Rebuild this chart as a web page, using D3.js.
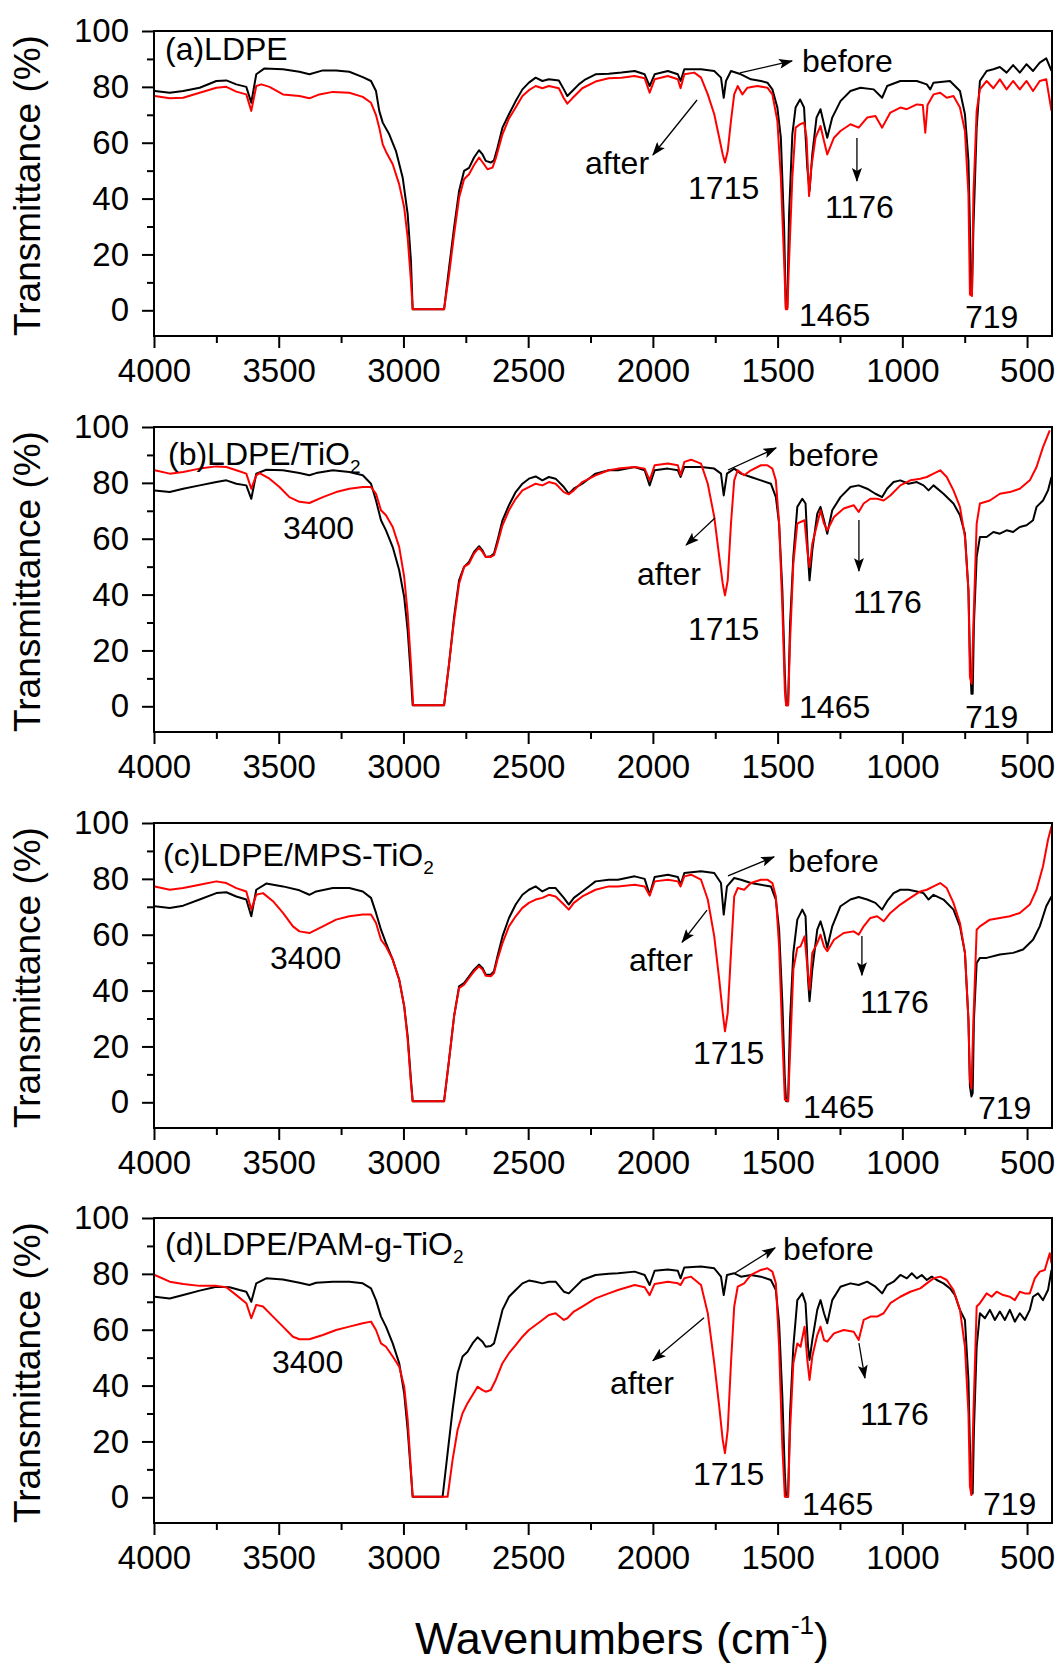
<!DOCTYPE html>
<html>
<head>
<meta charset="utf-8">
<script src="https://cdn.jsdelivr.net/npm/d3@7"></script>
<style>
  body { margin: 0; background: #fff; }
</style>
</head>
<body>
<svg id="chart" width="1060" height="1664"></svg>
<script>
///////// data: [wavenumber (cm-1), transmittance (%)] //////////

const ldpeBefore = [[3997,78.5],[3937,77.9],[3883,78.5],[3817,79.7],[3750,82.1],[3710,82.3],[3670,80.9],[3630,80],[3610,74.3],[3590,84.5],[3557,86.6],[3483,86.3],[3417,85.4],[3377,84.5],[3323,85.9],[3270,85.9],[3217,85.4],[3163,83.5],[3130,82.1],[3110,78.5],[3097,71.4],[3083,67.2],[3057,63],[3030,57],[3003,47.5],[2983,34.4],[2970,17.7],[2963,0.4],[2837,0.4],[2817,15.3],[2797,29.6],[2777,42.7],[2757,49.9],[2737,51],[2717,54.7],[2697,57.3],[2683,55.8],[2670,53.5],[2650,52.9],[2637,53.7],[2623,58.2],[2603,65.4],[2577,70.2],[2550,74.9],[2523,79.1],[2497,81.5],[2470,83.3],[2443,82.1],[2417,82.7],[2377,82.3],[2357,79.1],[2343,76.7],[2323,78.5],[2297,80.9],[2270,82.7],[2230,84.5],[2177,84.7],
  [2126,85.1],[2073,85.7],[2033,84.5],[2013,80.3],[1993,84.5],[1940,85.7],[1900,84.5],[1889,82.1],[1874,86.3],[1807,86.3],[1754,85.7],[1727,83.3],[1716,76.1],[1707,82.1],[1687,85.7],[1647,84.5],[1607,82.7],[1567,82.1],[1541,81.5],[1521,79.1],[1501,72.6],[1487,61.8],[1474,29.6],[1467,1],[1461,1],[1454,34.4],[1441,63],[1428,72.6],[1410,75.5],[1394,72.6],[1381,51.1],[1372,42.7],[1361,55.8],[1344,69],[1328,72],[1314,66.6],[1301,61.8],[1281,69],[1248,74.9],[1208,78.5],[1168,79.7],[1115,79.1],[1081,76.1],[1061,80.3],[1008,82.1],[942,82.1],[902,80.9],[888,79.1],[875,81.5],[809,82.1],[769,78.5],[749,70.2],[735,53.5],[729,29.6],[725,5.7],[721,5.7],[715,29.6],[702,65.4],[689,82.1],[662,85.7],[635,86.3],[609,87.1],[582,85.1],[556,87.8],[529,85.1],[502,88.1],[476,85.7],[449,88.7],[423,90.2],[402,85.7]];
const ldpeAfter = [[3997,76.7],[3937,75.9],[3883,76.1],[3817,77.9],[3750,79.7],[3710,80],[3670,78.3],[3630,77.3],[3610,71.4],[3590,80.3],[3570,80.9],[3537,80],[3483,77.3],[3417,76.7],[3377,75.9],[3337,77.3],[3283,78.2],[3217,77.9],[3163,76.4],[3130,74.3],[3110,69.9],[3097,65.4],[3083,59.4],[3070,56.8],[3043,52.3],[3017,45.1],[2997,36.8],[2983,26],[2970,10.5],[2963,0.4],[2837,0.4],[2817,12.9],[2797,27.2],[2777,40.3],[2757,46.9],[2737,48.7],[2717,52],[2697,54.7],[2677,52.3],[2663,50.5],[2643,51.1],[2630,54.4],[2603,63],[2577,68.7],[2550,72.6],[2523,76.7],[2497,78.8],[2470,80.3],[2443,79.5],[2417,80.3],[2377,79.5],[2357,75.9],[2343,74],[2323,75.9],[2283,79.5],[2230,81.9],[2177,83.1],
  [2126,83.3],[2073,83.9],[2033,83.1],[2013,77.9],[1993,82.7],[1940,83.9],[1900,82.7],[1889,79.5],[1874,84.5],[1834,85.1],[1807,83.3],[1780,77.3],[1754,70.2],[1734,61.8],[1720,55.8],[1711,52.9],[1700,57],[1687,67.8],[1674,77.3],[1660,80.3],[1641,77.3],[1621,79.7],[1581,80.3],[1541,79.7],[1521,77.3],[1501,67.8],[1487,47.5],[1474,17.7],[1467,0.4],[1461,0.4],[1454,17.7],[1441,47.5],[1428,65.4],[1410,66.6],[1394,67.2],[1384,61.8],[1374,40.9],[1365,51.1],[1348,61.8],[1328,66],[1314,60.6],[1301,55.8],[1274,61.8],[1248,64.2],[1208,66.6],[1175,65.4],[1141,69],[1108,69.6],[1081,65.4],[1048,70.8],[1008,72.6],[982,72],[942,73.7],[918,73.5],[908,63.6],[899,73.5],[875,77.3],[848,77.9],[822,76.1],[795,76.7],[769,72.6],[749,64.2],[735,41.5],[729,5.7],[721,5.1],[715,41.5],[702,71.4],[689,79.1],[662,82.1],[635,79.5],[609,82.7],[582,79.1],[556,82.1],[529,79.1],[502,82.1],[476,78.5],[449,82.1],[423,82.7],[402,71.4]];

const tio2Before = [[3997,77.3],[3937,76.7],[3883,77.9],[3817,79.1],[3750,80.3],[3710,80.9],[3670,79.7],[3630,79.1],[3610,74.3],[3590,83.3],[3550,84.7],[3483,84.5],[3417,83.5],[3377,82.7],[3350,83.5],[3283,84.5],[3217,83.9],[3163,82.7],[3130,79.7],[3110,73.7],[3090,66.6],[3070,63],[3043,57],[3017,48.7],[2997,39.1],[2983,27.2],[2970,10.5],[2963,0.4],[2837,0.4],[2817,15.3],[2797,32],[2777,45.1],[2757,49.9],[2737,51.7],[2717,55.3],[2697,57.3],[2683,55.8],[2670,53.5],[2650,53.7],[2637,54.7],[2623,59.4],[2603,66.6],[2577,72],[2550,76.7],[2523,79.7],[2497,81.5],[2470,82.3],[2443,80.9],[2417,82.1],[2390,81.5],[2357,78.5],[2337,76.1],[2317,77.9],[2283,79.7],[2230,83.3],[2177,84.5],
  [2140,84.5],[2073,85.7],[2033,84.5],[2013,79.1],[1993,84.5],[1940,85.1],[1900,84.5],[1889,82.1],[1874,85.7],[1807,85.7],[1754,85.1],[1727,83.3],[1716,75.5],[1703,83.3],[1674,85.1],[1647,83.3],[1607,82.1],[1567,80.9],[1527,79.7],[1507,74.9],[1494,65.4],[1481,41.5],[1471,11.7],[1466,0.4],[1458,0.4],[1450,29.6],[1437,53.5],[1421,71.4],[1401,74.3],[1388,72.6],[1378,53.5],[1372,45.1],[1361,55.8],[1341,69],[1328,71.4],[1314,66.6],[1301,61.8],[1281,70.2],[1248,74.9],[1208,78.5],[1175,79.1],[1141,77.9],[1108,76.1],[1081,74.9],[1061,77.9],[1035,80.3],[1008,80.9],[975,79.7],[942,80.3],[915,79.1],[895,77.3],[875,79.1],[835,76.1],[795,72.6],[769,68.4],[749,61.8],[735,41.5],[729,17.7],[723,4.5],[718,4.5],[713,29.6],[702,53.5],[689,60.6],[662,60.6],[635,62.4],[609,61.8],[582,63],[556,62.4],[529,64.2],[502,64.8],[476,66.6],[462,71.4],[436,73.7],[416,77.3],[402,82.1]];
const tio2After = [[3997,84.5],[3937,83.3],[3883,83.9],[3817,85.1],[3750,85.9],[3710,85.7],[3670,84.5],[3630,83.3],[3610,77.9],[3590,82.7],[3577,83.5],[3537,81.5],[3497,78.5],[3457,74.9],[3417,73.2],[3377,72.8],[3323,74.9],[3270,76.7],[3217,77.9],[3163,78.5],[3130,78.5],[3110,76.1],[3090,70.2],[3070,68.4],[3043,64.2],[3017,57],[2997,46.3],[2983,33.2],[2970,15.3],[2961,0.4],[2837,0.4],[2817,15.3],[2797,30.8],[2777,43.9],[2757,49.9],[2737,51.1],[2717,54.7],[2697,56.8],[2683,55.3],[2670,53.5],[2650,53.5],[2637,54.1],[2623,58.2],[2603,64.8],[2577,70.2],[2550,74.3],[2523,77.3],[2497,78.5],[2470,79.7],[2443,79.1],[2417,80.3],[2390,79.7],[2357,76.7],[2337,75.9],[2317,77.3],[2283,80.3],[2230,82.7],[2177,84.5],
  [2140,85.1],[2073,85.7],[2033,85.1],[2013,80.9],[1993,86.3],[1940,86.9],[1900,86.3],[1889,82.7],[1874,87.5],[1847,88.3],[1807,86.9],[1780,79.7],[1754,67.8],[1734,53.5],[1720,43.9],[1711,39.7],[1700,45.1],[1687,65.4],[1674,80.9],[1660,84.5],[1634,82.7],[1607,84.5],[1567,86.3],[1541,86.3],[1521,85.1],[1507,80.9],[1494,65.4],[1481,35.6],[1471,5.7],[1466,0.4],[1458,0.4],[1450,23.6],[1437,51.1],[1421,65.4],[1408,66],[1392,66.6],[1381,55.8],[1372,49.9],[1361,58.2],[1341,65.4],[1328,70.2],[1314,65.4],[1301,63],[1274,67.8],[1235,70.8],[1195,72],[1175,69.6],[1155,72.6],[1128,74.3],[1101,74.3],[1075,73.7],[1048,75.5],[1008,79.1],[968,80.9],[928,81.5],[902,82.1],[875,83.3],[848,84.5],[822,82.1],[795,77.3],[769,71.4],[749,60.6],[735,41.5],[729,10.5],[722,8.1],[715,29.6],[702,65.4],[689,72.6],[649,73.7],[609,76.1],[569,76.7],[529,77.9],[489,80.9],[462,85.7],[436,92.8],[409,98.8]];

const mpsBefore = [[3997,70.2],[3937,69.6],[3883,70.4],[3817,72.6],[3750,74.9],[3710,75.2],[3670,73.7],[3630,72.6],[3610,66.6],[3590,76.1],[3550,78.3],[3483,77.3],[3417,75.9],[3377,74.3],[3350,75.5],[3283,76.7],[3217,76.7],[3163,75.5],[3130,73.2],[3110,67.8],[3090,61.8],[3070,57],[3043,51.1],[3017,43.9],[2997,34.4],[2983,23.6],[2970,8.1],[2963,0.4],[2837,0.4],[2817,15.3],[2797,30.8],[2777,41.5],[2757,42.7],[2737,45.1],[2717,47.5],[2697,49.3],[2683,48.1],[2670,45.7],[2650,45.7],[2637,46.9],[2623,52.3],[2603,59.4],[2577,66],[2550,70.8],[2523,74.3],[2497,76.1],[2470,77.3],[2443,75.5],[2417,76.7],[2390,76.7],[2357,73.2],[2337,70.8],[2317,73.2],[2283,75.5],[2230,79.1],[2177,79.7],
  [2140,79.7],[2073,80.9],[2033,80],[2013,74.3],[1993,80.7],[1940,81.5],[1900,80.7],[1889,77.9],[1874,82.1],[1807,82.7],[1754,82.1],[1727,78.5],[1716,67.2],[1703,77.3],[1674,80.3],[1647,79.7],[1607,78.5],[1567,77.9],[1527,77.3],[1507,72.6],[1494,61.8],[1481,35.6],[1471,8.1],[1466,0.4],[1458,0.4],[1450,29.6],[1437,53.5],[1421,65.4],[1401,69],[1388,66.6],[1378,43.9],[1372,36.2],[1361,47.5],[1341,61.8],[1328,64.8],[1314,60.6],[1301,55.3],[1281,63],[1248,70.2],[1208,72.6],[1175,73.5],[1141,72.6],[1108,71.4],[1081,69],[1061,72],[1035,74.9],[1008,76.1],[975,76.1],[942,75.5],[915,74.9],[895,72.6],[875,74.3],[835,72.6],[795,69],[769,63],[749,53.5],[735,29.6],[729,5.7],[723,2.1],[718,3.3],[713,29.6],[702,49.9],[689,51.7],[662,51.7],[609,52.9],[556,53.5],[516,54.7],[476,58.2],[449,63],[423,70.2],[402,73.7]];
const mpsAfter = [[3997,77.3],[3937,76.1],[3883,76.7],[3817,77.9],[3750,79.1],[3710,78.5],[3670,76.7],[3630,75.5],[3610,69],[3590,74.3],[3563,74.9],[3523,72],[3483,67.8],[3443,63],[3417,61.2],[3377,60.6],[3323,63],[3270,65.4],[3217,66.6],[3163,67.2],[3130,67.2],[3110,64.2],[3090,58.2],[3070,55.8],[3043,51.1],[3017,43.9],[2997,34.4],[2983,22.4],[2970,6.9],[2963,0.4],[2837,0.4],[2817,15.3],[2797,30.8],[2777,40.9],[2757,42.1],[2737,44.5],[2717,46.9],[2697,48.7],[2683,47.5],[2670,45.3],[2650,45.1],[2637,46.3],[2623,51.1],[2603,57],[2577,63],[2550,66.6],[2523,69.6],[2497,71.4],[2470,72.6],[2443,73.2],[2417,74.3],[2390,73.7],[2357,70.8],[2337,69],[2317,71.4],[2283,73.7],[2230,76.1],[2177,77.3],
  [2140,77.3],[2073,77.9],[2033,77.3],[2013,74],[1993,79.1],[1940,79.7],[1900,79.1],[1889,77.3],[1874,80.9],[1847,81.5],[1807,79.7],[1780,72.6],[1754,59.4],[1734,43.9],[1720,32],[1711,25.4],[1700,32],[1687,53.5],[1674,73.7],[1660,76.7],[1634,76.1],[1607,78.5],[1567,79.7],[1541,79.7],[1521,78.5],[1507,73.7],[1494,55.8],[1481,23.6],[1471,1],[1458,0.4],[1450,17.7],[1437,47.5],[1421,55.3],[1408,55.8],[1392,59.4],[1381,48.7],[1372,40.3],[1361,53.5],[1341,57],[1328,60],[1314,55.8],[1301,54.1],[1274,58.2],[1235,60.6],[1195,61.2],[1175,60],[1155,63],[1128,66],[1101,66.6],[1075,64.8],[1048,67.8],[1008,70.8],[968,73.2],[928,75.5],[902,76.1],[875,77.3],[848,78.5],[822,76.7],[795,71.4],[769,64.2],[749,53.5],[735,29.6],[729,8],[723,5],[715,29.6],[702,61.8],[689,63],[649,65.4],[609,66],[569,66.6],[529,67.8],[489,70.8],[462,76.1],[436,84.5],[416,94],[402,98.8]];

const pamBefore = [[3997,71.8],[3937,71.2],[3883,72.4],[3817,74],[3750,75.4],[3697,75.2],[3657,74.2],[3630,73.6],[3610,70],[3590,76.6],[3550,78.4],[3483,78],[3417,76.8],[3377,76],[3350,76.8],[3283,77.2],[3217,77.2],[3163,76.6],[3130,74.8],[3110,70.6],[3090,64.7],[3070,61.1],[3043,55.1],[3017,48],[2997,37.2],[2983,24.1],[2970,8.6],[2963,0.2],[2843,0.2],[2823,15.8],[2803,31.3],[2783,44.4],[2763,50.4],[2743,52.1],[2723,55.1],[2703,57.3],[2683,55.7],[2670,53.9],[2650,54.2],[2637,55.1],[2623,59.9],[2603,67.1],[2577,71.8],[2550,74.2],[2523,76.6],[2497,77.6],[2470,77.2],[2443,76.6],[2417,77.2],[2390,77.2],[2357,73.6],[2337,73],[2317,74.8],[2283,77.8],[2230,79.6],[2177,80],
  [2140,80.2],[2073,80.8],[2033,79.6],[2013,76],[1993,81.1],[1940,81.6],[1900,81.1],[1889,78.4],[1874,82.3],[1807,82.6],[1754,82],[1727,79],[1716,72.4],[1703,79.6],[1674,80.2],[1647,79],[1607,79.6],[1567,79],[1527,77.8],[1507,74.2],[1494,62.3],[1481,36],[1471,8.6],[1466,0.2],[1458,0.2],[1450,30.1],[1437,53.9],[1421,70.6],[1401,73],[1388,69.5],[1378,53.9],[1372,49.2],[1361,56.3],[1341,67.1],[1328,70.6],[1314,65.9],[1301,62.3],[1281,70.6],[1248,75.4],[1208,76.6],[1175,76],[1141,77.2],[1108,75.4],[1081,73],[1061,76],[1035,77.2],[1008,79.6],[982,78.4],[962,80.2],[942,78.4],[922,79.6],[902,77.8],[882,79],[862,77.8],[835,76.6],[809,74.8],[789,72.4],[769,67.1],[749,63.5],[735,42],[729,18.1],[723,1.4],[718,1.4],[713,24.1],[702,53.9],[689,65.9],[669,64.1],[649,67.1],[629,63.5],[609,66.5],[589,63.5],[569,67.1],[549,62.9],[529,65.9],[509,63.5],[489,67.1],[476,71.8],[456,73],[436,70.6],[416,74.2],[402,81.4]];
const pamAfter = [[3997,79.6],[3937,77.2],[3883,76.4],[3817,75.7],[3750,75.7],[3710,75.2],[3670,72.4],[3630,69.5],[3610,64.1],[3590,68.9],[3563,68.3],[3523,64.7],[3483,61.1],[3443,57.5],[3417,56.6],[3377,56.6],[3323,58.1],[3270,59.9],[3217,61.1],[3163,62.3],[3130,62.9],[3110,59.9],[3090,55.1],[3070,53.9],[3043,50.4],[3017,46.8],[2997,39.6],[2983,27.7],[2970,9.8],[2963,0.2],[2823,0.2],[2803,13.4],[2783,24.1],[2763,30.1],[2743,33.7],[2723,36.6],[2703,39.6],[2683,38.4],[2670,37.8],[2650,38.4],[2630,42],[2603,48],[2577,51.6],[2550,54.5],[2523,57.5],[2497,59.9],[2470,61.7],[2443,63.5],[2417,65.3],[2390,65.9],[2357,63.5],[2343,64.1],[2317,66.5],[2283,68.3],[2230,71.2],[2177,73],
  [2140,74.2],[2073,76],[2033,75.2],[2013,72.4],[1993,76.4],[1940,77.2],[1900,76.6],[1889,76],[1874,78.4],[1847,79],[1807,76],[1780,65.9],[1754,48],[1734,32.5],[1720,20.5],[1711,15.8],[1700,24.1],[1687,48],[1674,68.3],[1660,75.4],[1634,76.6],[1607,79.6],[1567,81.4],[1541,82],[1521,80.8],[1507,76.6],[1494,53.9],[1481,18.1],[1471,0.2],[1458,0.2],[1450,24.1],[1437,48],[1421,55.1],[1408,53.9],[1392,61.1],[1381,49.2],[1372,42],[1361,50.4],[1341,58.1],[1328,61.1],[1314,56.3],[1301,55.7],[1274,58.7],[1235,59.9],[1195,59.3],[1175,56.3],[1155,63.5],[1128,64.7],[1101,64.7],[1075,65.9],[1048,69.5],[1008,71.8],[968,73.6],[928,74.8],[902,76.6],[875,78.4],[848,79],[822,77.8],[795,74.2],[769,67.1],[749,53.9],[735,30.1],[729,3.8],[723,0.8],[715,30.1],[702,68.3],[689,69.5],[662,73],[642,71.8],[622,73.6],[596,72.4],[569,71.8],[549,70.6],[529,73.6],[509,73],[489,73],[469,78.4],[449,80.8],[429,81.4],[409,87.4],[402,83.8]];

// panel names (main text, subscript)
const panelTitles = [["(a)LDPE", ""], ["(b)LDPE/TiO", "2"], ["(c)LDPE/MPS-TiO", "2"], ["(d)LDPE/PAM-g-TiO", "2"]];

// annotation texts placed at [wavenumber, %T] of the text start
const ldpeNotes = [["before",1402,85.3],["after",2272,48.8],["1715",1859,39.9],["1465",1414,-5.6],["1176",1310,33],["719",749,-6.3]];
const tio2Notes = [["3400",3483,59.9],["before",1458,86],["after",2064,43.6],["1715",1859,23.9],["1465",1414,-4.2],["1176",1198,33.4],["719",749,-7.8]];
const mpsNotes = [["3400",3535,47.7],["before",1458,82.5],["after",2096,46.9],["1715",1839,13.8],["1465",1398,-5.5],["1176",1170,32],["719",697,-6]];
const pamNotes = [["3400",3527,44.5],["before",1478,85],["after",2172,37],["1715",1839,4.4],["1465",1402,-6.3],["1176",1170,25.9],["719",677,-6.3]];

// arrows [wn1, T1, wn2, T2] (arrow head at the second point)
const ldpeArrows = [[1651,85,1442,89.3],[1823,75.3,2000,55.6],[1182,61.7,1182,46.3]];
const tio2Arrows = [[1699,84.6,1506,92.5],[1751,67.4,1867,57.7],[1174,66.7,1174,48.4]];
const mpsArrows = [[1699,81.1,1514,87.9],[1783,68.8,1883,57.3],[1162,59.5,1162,45.5]];
const pamArrows = [[1671,80.3,1510,89.3],[1795,64.3,2000,48.9],[1174,55.2,1150,42.7]];

const titleAnchor = [[3956,89.6],[3944,86.4],[3964,84.6],[3956,86.8]];

const xMajor = [4000, 3500, 3000, 2500, 2000, 1500, 1000, 500];
const xMinor = [3750, 3250, 2750, 2250, 1750, 1250, 750];
const yMajor = [0, 20, 40, 60, 80, 100];
const yMinor = [10, 30, 50, 70, 90];

////////////////////// drawing //////////////////////
const FONT = "'Liberation Sans', Arial, Helvetica, sans-serif";
const plotLeft = 154, plotRight = 1052, panelH = 305;
const panelTops = [31, 427, 823, 1218];

const panels = [
  {before: ldpeBefore, after: ldpeAfter, notes: ldpeNotes, arrows: ldpeArrows},
  {before: tio2Before, after: tio2After, notes: tio2Notes, arrows: tio2Arrows},
  {before: mpsBefore, after: mpsAfter, notes: mpsNotes, arrows: mpsArrows},
  {before: pamBefore, after: pamAfter, notes: pamNotes, arrows: pamArrows}
];

const svg = d3.select("#chart");
svg.append("rect").attr("width", 1060).attr("height", 1664).attr("fill", "#fff");

let defs = svg.append("defs");
defs.append("marker")
  .attr("id", "arrowhead")
  .attr("viewBox", "0 0 14 10")
  .attr("refX", 13).attr("refY", 5)
  .attr("markerWidth", 14).attr("markerHeight", 10)
  .attr("markerUnits", "userSpaceOnUse")
  .attr("orient", "auto")
  .append("path")
  .attr("d", "M0,0 L14,5 L0,10 L3,5 Z")
  .attr("fill", "#000");

const x = d3.scaleLinear().domain([4000, 400]).range([plotLeft, plotRight]);

panels.forEach(function(p, i) {
  let top = panelTops[i];
  let y = d3.scaleLinear().domain([-9.2, 100]).range([top + panelH, top]);
  let g = svg.append("g").attr("class", "panel-" + i);

  defs.append("clipPath").attr("id", "clip" + i)
    .append("rect")
    .attr("x", plotLeft).attr("y", top)
    .attr("width", plotRight - plotLeft).attr("height", panelH);

  let line = d3.line().x(d => x(d[0])).y(d => y(d[1]));
  let curves = g.append("g").attr("clip-path", "url(#clip" + i + ")");
  curves.append("path").datum(p.before)
    .attr("d", line).attr("fill", "none")
    .attr("stroke", "#000").attr("stroke-width", 2).attr("stroke-linejoin", "round");
  curves.append("path").datum(p.after)
    .attr("d", line).attr("fill", "none")
    .attr("stroke", "#ff0000").attr("stroke-width", 2).attr("stroke-linejoin", "round");

  // x axis, major + minor
  let gx = g.append("g").attr("transform", "translate(0," + (top + panelH) + ")")
    .call(d3.axisBottom(x).tickValues(xMajor).tickSize(12).tickPadding(11).tickFormat(d3.format("d")));
  let gxm = g.append("g").attr("transform", "translate(0," + (top + panelH) + ")")
    .call(d3.axisBottom(x).tickValues(xMinor).tickSize(7).tickFormat(""));
  // y axis, major + minor
  let gy = g.append("g").attr("transform", "translate(" + plotLeft + ",0)")
    .call(d3.axisLeft(y).tickValues(yMajor).tickSize(12).tickPadding(13));
  let gym = g.append("g").attr("transform", "translate(" + plotLeft + ",0)")
    .call(d3.axisLeft(y).tickValues(yMinor).tickSize(7).tickFormat(""));

  for (let ax of [gx, gxm, gy, gym]) {
    ax.select(".domain").remove();
    ax.selectAll("line").attr("stroke", "#000").attr("stroke-width", 2);
    ax.selectAll("text").attr("font-size", 33).attr("font-family", FONT).attr("fill", "#000");
  }

  // frame
  g.append("rect")
    .attr("x", plotLeft).attr("y", top)
    .attr("width", plotRight - plotLeft).attr("height", panelH)
    .attr("fill", "none").attr("stroke", "#000").attr("stroke-width", 2);

  // y label
  g.append("text")
    .attr("transform", "translate(40," + (top + panelH / 2 + 2) + ") rotate(-90)")
    .attr("text-anchor", "middle")
    .attr("font-family", FONT).attr("font-size", 37).attr("fill", "#000")
    .text("Transmittance (%)");

  // panel title
  let [main, sub] = panelTitles[i];
  let t = g.append("text")
    .attr("x", x(titleAnchor[i][0])).attr("y", y(titleAnchor[i][1]))
    .attr("font-family", FONT).attr("font-size", 32).attr("fill", "#000");
  t.append("tspan").text(main);
  if (sub) t.append("tspan").attr("font-size", 19).attr("dy", 8).text(sub);

  // annotations
  for (let [txt, wn, tr] of p.notes) {
    g.append("text")
      .attr("x", x(wn)).attr("y", y(tr))
      .attr("font-family", FONT).attr("font-size", 32).attr("fill", "#000")
      .text(txt);
  }
  for (let [w1, t1, w2, t2] of p.arrows) {
    g.append("line")
      .attr("x1", x(w1)).attr("y1", y(t1))
      .attr("x2", x(w2)).attr("y2", y(t2))
      .attr("stroke", "#000").attr("stroke-width", 1.3)
      .attr("marker-end", "url(#arrowhead)");
  }
});

// common x label
let xl = svg.append("text")
  .attr("x", 622).attr("y", 1654)
  .attr("text-anchor", "middle")
  .attr("font-family", FONT).attr("font-size", 45).attr("fill", "#000");
xl.append("tspan").text("Wavenumbers (cm");
xl.append("tspan").attr("font-size", 26).attr("dy", -20).text("-1");
xl.append("tspan").attr("dy", 20).text(")");
</script>
</body>
</html>
